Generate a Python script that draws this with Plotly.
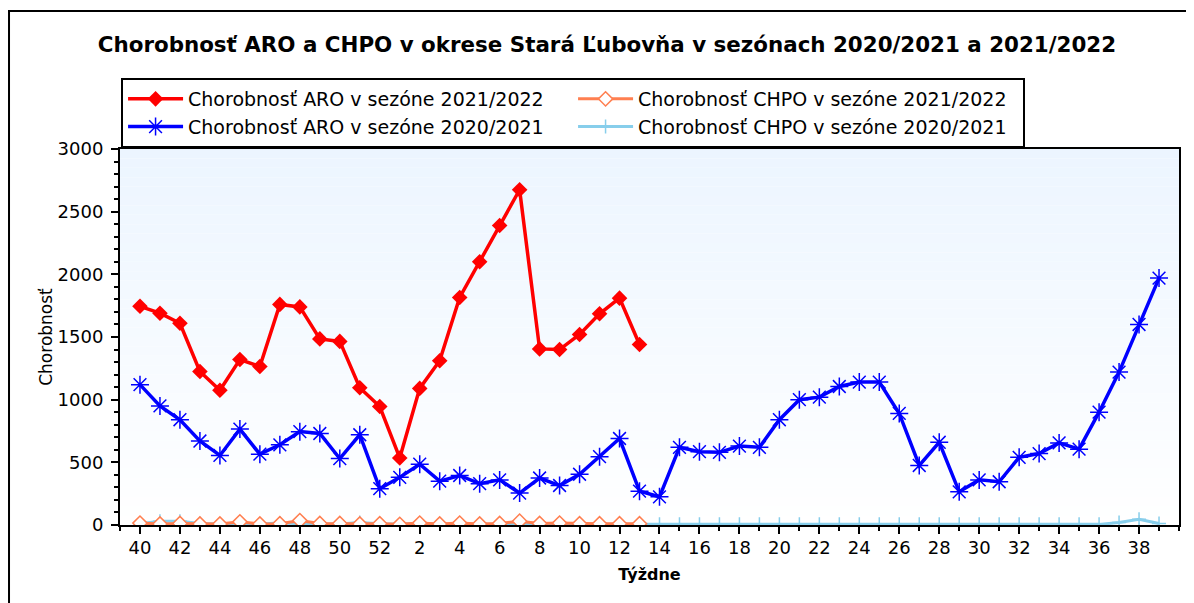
import plotly.graph_objects as go

# ---- data ----
weeks = [40, 41, 42, 43, 44, 45, 46, 47, 48, 49, 50, 51, 52,
         1, 2, 3, 4, 5, 6, 7, 8, 9, 10, 11, 12, 13, 14, 15, 16, 17, 18, 19,
         20, 21, 22, 23, 24, 25, 26, 27, 28, 29, 30, 31, 32, 33, 34, 35, 36, 37, 38, 39]

aro_2122 = [1745, 1690, 1610, 1225, 1075, 1320, 1265, 1760, 1740, 1485, 1465, 1095, 945,
            535, 1090, 1310, 1815, 2100, 2390, 2675, 1405, 1400, 1520, 1685, 1810, 1440]

aro_2021 = [1120, 950, 840, 670, 555, 765, 565, 640, 745, 730, 530, 720, 290,
            380, 485, 350, 395, 330, 360, 255, 375, 315, 405, 545, 690, 270,
            225, 620, 585, 580, 630, 620, 840, 1000, 1020, 1105, 1140, 1140, 890,
            475, 660, 265, 360, 345, 540, 570, 655, 605, 900, 1220, 1600, 1970]

chpo_2122 = [15, 8, 12, 8, 8, 25, 8, 10, 35, 12, 12, 8, 10,
             5, 15, 8, 15, 8, 12, 30, 12, 15, 10, 10, 10, 10]

chpo_2021 = [10, 30, 30, 12, 8, 8, 8, 15, 10, 8, 8, 20, 10,
             5, 15, 5, 5, 5, 5, 5, 8, 5, 5, 5, 5, 5,
             5, 5, 5, 5, 5, 5, 5, 5, 5, 5, 5, 5, 5,
             5, 5, 5, 5, 5, 5, 5, 5, 5, 5, 20, 45, 12]

y_ticks = [0, 500, 1000, 1500, 2000, 2500, 3000]

names = ["Chorobnosť ARO v sezóne 2021/2022", "Chorobnosť CHPO v sezóne 2021/2022",
         "Chorobnosť ARO v sezóne 2020/2021", "Chorobnosť CHPO v sezóne 2020/2021"]

title_text = "Chorobnosť ARO a CHPO v okrese Stará Ľubovňa v sezónach 2020/2021 a 2021/2022"

# ---- derived ----
idx = list(range(len(weeks)))
tick_idx = idx[::2]
tick_txt = [str(weeks[i]) for i in tick_idx]

FONT = "DejaVu Sans"

fig = go.Figure()

fig.add_trace(go.Scatter(
    x=idx[:len(chpo_2021)], y=chpo_2021, name=names[3], legendrank=4,
    mode="lines+markers",
    line=dict(color="#87CEEB", width=3),
    marker=dict(symbol="cross-thin-open", size=10, line=dict(color="#87CEEB", width=1.5)),
))
fig.add_trace(go.Scatter(
    x=idx[:len(chpo_2122)], y=chpo_2122, name=names[1], legendrank=2,
    mode="lines+markers",
    line=dict(color="#FF7F50", width=3),
    marker=dict(symbol="diamond", size=11, color="white", line=dict(color="#FF7F50", width=1.5)),
))
fig.add_trace(go.Scatter(
    x=idx[:len(aro_2021)], y=aro_2021, name=names[2], legendrank=3,
    mode="lines+markers",
    line=dict(color="#0000FF", width=3.5),
    marker=dict(symbol="asterisk-open", size=15, line=dict(color="#0000FF", width=1.5)),
))
fig.add_trace(go.Scatter(
    x=idx[:len(aro_2122)], y=aro_2122, name=names[0], legendrank=1,
    mode="lines+markers",
    line=dict(color="#FF0000", width=3.5),
    marker=dict(symbol="diamond", size=12, color="#FF0000"),
))

# gradient plot background
shapes = []
n = 40
top = (236, 245, 255)
for k in range(n):
    t = (k + 0.5) / n
    c = tuple(int(round(255 + (top[j] - 255) * t)) for j in range(3))
    shapes.append(dict(type="rect", xref="paper", yref="paper",
                       x0=0, x1=1, y0=k / n, y1=(k + 1) / n,
                       fillcolor="rgb(%d,%d,%d)" % c, line=dict(width=0), layer="below"))
# outer frame
shapes.append(dict(type="rect", xref="paper", yref="paper",
                   x0=-0.1048, x1=1.2, y0=-0.5, y1=1.367,
                   line=dict(color="black", width=2), fillcolor="rgba(0,0,0,0)"))

xr = [-1, 52]
yr = [0, 3000]

fig.update_layout(
    width=1186, height=595,
    margin=dict(l=112, r=15, t=141, b=78, autoexpand=False),
    paper_bgcolor="white", plot_bgcolor="white",
    font=dict(family=FONT, color="black"),
    shapes=shapes,
    showlegend=True,
    title=dict(text=title_text, x=0.505, xanchor="center", y=0.9378, yanchor="middle",
               font=dict(family=FONT, size=21.4, color="black", weight="bold")),
    legend=dict(orientation="h", x=0.001, xanchor="left", y=1.1888, yanchor="top",
                xref="paper", yref="paper",
                bgcolor="white", bordercolor="black", borderwidth=2,
                font=dict(family=FONT, size=19, color="black"),
                entrywidth=380, entrywidthmode="pixels", itemwidth=55,
                traceorder="normal"),
    xaxis=dict(range=xr, tickmode="array", tickvals=tick_idx, ticktext=tick_txt,
               automargin=False,
               showgrid=False, zeroline=False, showline=True, linecolor="black",
               linewidth=2, mirror=True, ticks="outside", ticklen=7, tickwidth=2,
               tickcolor="black", ticklabelstandoff=-2,
               minor=dict(dtick=1, tick0=0, ticks="outside", ticklen=4, tickwidth=2, tickcolor="black"),
               tickfont=dict(family=FONT, size=18, color="black"),
               title=dict(text="Týždne", standoff=12,
                          font=dict(family=FONT, size=16, color="black", weight="bold"))),
    yaxis=dict(range=yr, tickmode="array", tickvals=y_ticks, ticktext=[str(v) for v in y_ticks],
               automargin=False,
               showgrid=False, zeroline=False, showline=True, linecolor="black",
               linewidth=2, mirror=True, ticks="outside", ticklen=7, tickwidth=2,
               tickcolor="black", ticklabelstandoff=4,
               minor=dict(dtick=100, tick0=0, ticks="outside", ticklen=4, tickwidth=2, tickcolor="black"),
               tickfont=dict(family=FONT, size=18, color="black"),
               title=dict(text="Chorobnosť", standoff=1,
                          font=dict(family=FONT, size=17, color="black"))),
    xaxis2=dict(range=xr, overlaying="x", side="top", anchor="y", automargin=False,
                showgrid=False, zeroline=False, showline=False, showticklabels=False,
                tickmode="linear", tick0=0, dtick=1, ticks="inside", ticklen=5, tickwidth=2,
                tickcolor="black"),
    yaxis2=dict(range=yr, overlaying="y", side="right", anchor="x", automargin=False,
                showgrid=False, zeroline=False, showline=False, showticklabels=False,
                tickmode="linear", tick0=0, dtick=500, ticks="inside", ticklen=6, tickwidth=2,
                tickcolor="black",
                minor=dict(dtick=100, tick0=0, ticks="inside", ticklen=4, tickwidth=2, tickcolor="black")),
    yaxis3=dict(range=yr, overlaying="y", side="left", anchor="x", automargin=False,
                showgrid=False, zeroline=False, showline=False, showticklabels=False,
                tickmode="linear", tick0=0, dtick=500, ticks="inside", ticklen=7, tickwidth=2,
                tickcolor="black",
                minor=dict(dtick=100, tick0=0, ticks="inside", ticklen=4, tickwidth=2, tickcolor="black")),
)

fig.write_html("out.html")
